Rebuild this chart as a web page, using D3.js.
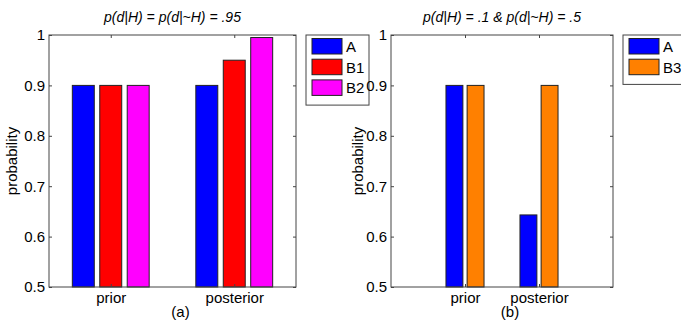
<!DOCTYPE html>
<html>
<head>
<meta charset="utf-8">
<script src="https://cdn.jsdelivr.net/npm/d3@7"></script>
<style>
  body { margin: 0; background: #fff; }
  text { font-family: "Liberation Sans", Arial, sans-serif; fill: #000; }
</style>
</head>
<body>
<script>
// Data
const categories = ["prior", "posterior"];
const yTicks = [0.5, 0.6, 0.7, 0.8, 0.9, 1];

const titleA = "p(d|H) = p(d|~H) = .95";
const seriesNamesA = ["A", "B1", "B2"];
const valuesA_A = [0.9, 0.9];
const valuesA_B1 = [0.9, 0.95];
const valuesA_B2 = [0.9, 0.995];
const colorsA = ["#0000ff", "#ff0000", "#ff00ff"];

const titleB = "p(d|H) = .1 & p(d|~H) = .5";
const seriesNamesB = ["A", "B3"];
const valuesB_A = [0.9, 0.643];
const valuesB_B3 = [0.9, 0.9];
const colorsB = ["#0000ff", "#ff8000"];

const W = 681, H = 322;
const axisColor = "#444";

const svg = d3.select("body").append("svg")
    .attr("width", W)
    .attr("height", H);

// one panel = one matlab style grouped bar plot
function drawPanel(opt) {
  const x = d3.scaleLinear().domain(opt.xlim).range([opt.left, opt.right]);
  const y = d3.scaleLinear().domain([0.5, 1]).range([287, 35]);
  const g = svg.append("g");

  const n = opt.series.length;
  const groupW = Math.min(0.8, n / (n + 1.5));
  const step = groupW / n;
  const barW = step * 0.8;

  opt.series.forEach((vals, i) => {
    const off = (i - (n - 1) / 2) * step;
    g.selectAll(null)
      .data(vals)
      .enter().append("rect")
      .attr("x", (d, j) => x(j + 1 + off - barW / 2))
      .attr("width", x(barW) - x(0))
      .attr("y", d => y(d))
      .attr("height", d => y(0.5) - y(d))
      .attr("fill", opt.colors[i])
      .attr("stroke", "#222")
      .attr("stroke-width", 1);
  });

  // axes, ticks pointing inward like matlab
  const yl = g.append("g")
    .attr("transform", `translate(${opt.left},0)`)
    .call(d3.axisLeft(y).tickValues(yTicks).tickSizeInner(-3).tickSizeOuter(0).tickPadding(4)
      .tickFormat(d => d === 1 ? "1" : d.toFixed(1)));
  const yr = g.append("g")
    .attr("transform", `translate(${opt.right},0)`)
    .call(d3.axisRight(y).tickValues(yTicks).tickSizeInner(-3).tickSizeOuter(0).tickFormat(""));
  const xb = g.append("g")
    .attr("transform", `translate(0,${y(0.5)})`)
    .call(d3.axisBottom(x).tickValues([1, 2]).tickSizeInner(-3).tickSizeOuter(0).tickPadding(5)
      .tickFormat((d, i) => categories[i]));
  const xt = g.append("g")
    .attr("transform", `translate(0,${y(1)})`)
    .call(d3.axisTop(x).tickValues([1, 2]).tickSizeInner(-3).tickSizeOuter(0).tickFormat(""));

  [yl, yr, xb, xt].forEach(a => {
    a.select(".domain").remove();
    a.selectAll("line").attr("stroke", axisColor);
    a.selectAll("text").attr("font-size", 15).attr("fill", "#000")
      .style("font-family", "Liberation Sans, Arial, sans-serif");
  });

  g.append("rect")
    .attr("x", opt.left).attr("y", y(1))
    .attr("width", opt.right - opt.left).attr("height", y(0.5) - y(1))
    .attr("fill", "none").attr("stroke", axisColor).attr("stroke-width", 1);

  // title
  g.append("text")
    .attr("x", (opt.left + opt.right) / 2).attr("y", 22)
    .attr("text-anchor", "middle")
    .attr("font-size", 14).attr("font-style", "italic")
    .text(opt.title);

  // y label
  g.append("text")
    .attr("transform", `translate(${opt.ylabelX},${(y(0.5) + y(1)) / 2}) rotate(-90)`)
    .attr("text-anchor", "middle")
    .attr("font-size", 15)
    .text("probability");

  // (a)/(b)
  g.append("text")
    .attr("x", (opt.left + opt.right) / 2 + 8).attr("y", 317)
    .attr("text-anchor", "middle")
    .attr("font-size", 15)
    .text(opt.label);

  // legend
  const lg = g.append("g").attr("transform", `translate(${opt.legX},35)`);
  lg.append("rect")
    .attr("x", 0).attr("y", 0)
    .attr("width", opt.legW).attr("height", 8 + n * 20.7)
    .attr("fill", "#fff").attr("stroke", axisColor);
  opt.names.forEach((name, i) => {
    lg.append("rect")
      .attr("x", 6).attr("y", 3.5 + i * 20.7)
      .attr("width", 30).attr("height", 15.5)
      .attr("fill", opt.colors[i]).attr("stroke", "#222");
    lg.append("text")
      .attr("x", 40).attr("y", 17 + i * 20.7)
      .attr("font-size", 15)
      .text(name);
  });
}

drawPanel({
  left: 49, right: 296, xlim: [0.5, 2.5],
  series: [valuesA_A, valuesA_B1, valuesA_B2],
  names: seriesNamesA, colors: colorsA, title: titleA, label: "(a)",
  ylabelX: 17, legX: 306, legW: 63
});

drawPanel({
  left: 391, right: 613, xlim: [0, 3],
  series: [valuesB_A, valuesB_B3],
  names: seriesNamesB, colors: colorsB, title: titleB, label: "(b)",
  ylabelX: 363, legX: 623, legW: 66
});
</script>
</body>
</html>
